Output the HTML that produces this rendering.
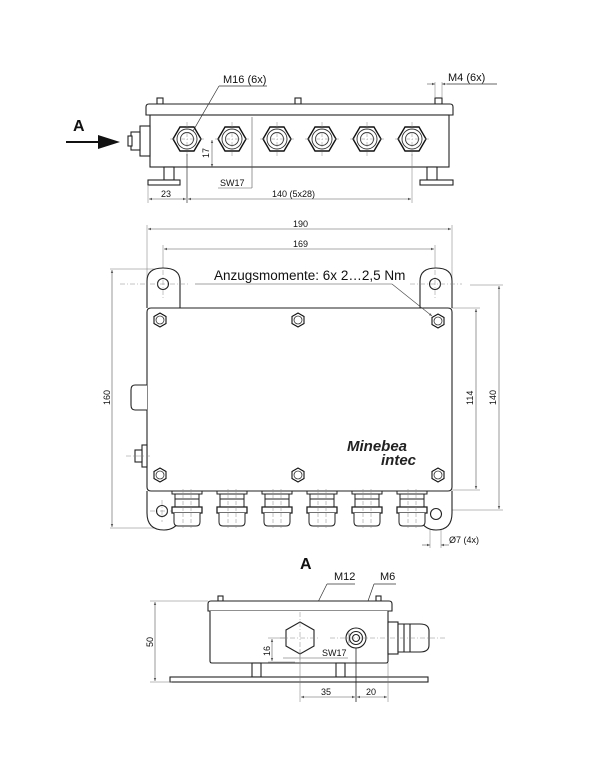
<!DOCTYPE html>
<html><head><meta charset="utf-8"><style>
html,body{margin:0;padding:0;background:#fff;width:603px;height:762px;overflow:hidden}
svg{display:block}
text{font-family:"Liberation Sans",sans-serif;fill:#111}
</style></head><body>
<svg width="603" height="762" viewBox="0 0 603 762" xmlns="http://www.w3.org/2000/svg">
<defs>
<marker id="ar" viewBox="0 0 10 10" refX="10" refY="5" markerWidth="6" markerHeight="5" orient="auto-start-reverse"><path d="M0,1L10,5L0,9z" fill="#555"/></marker>
<g id="hexT">
<polygon points="-14,0 -7,-12 7,-12 14,0 7,12 -7,12" fill="#fff" stroke="#111" stroke-width="1.4"/>
<circle r="10" fill="none" stroke="#333" stroke-width="0.9"/>
<circle r="6.5" fill="none" stroke="#333" stroke-width="0.9"/>
<line x1="-17" y1="0" x2="17" y2="0" stroke="#888" stroke-width="0.5" stroke-dasharray="5,2,1,2"/>
<line x1="0" y1="-17" x2="0" y2="17" stroke="#888" stroke-width="0.5" stroke-dasharray="5,2,1,2"/>
</g>
<g id="nut">
<polygon points="-6,-3.5 0,-7 6,-3.5 6,3.5 0,7 -6,3.5" fill="#fff" stroke="#111" stroke-width="1.1"/>
<circle r="4" fill="none" stroke="#333" stroke-width="0.8"/>
</g>
<g id="gland" stroke="#222" stroke-width="1" fill="#fff">
<rect x="-15" y="0" width="30" height="3"/>
<rect x="-12" y="3" width="24" height="14"/>
<line x1="-12" y1="8" x2="12" y2="8"/>
<rect x="-15" y="16" width="30" height="6" stroke-width="1.3"/>
<path d="M-13,22 L-13,31 Q-13,35 -9,35 L9,35 Q13,35 13,31 L13,22"/>
<line x1="-4" y1="-2" x2="-4" y2="37" stroke="#888" stroke-width="0.5" stroke-dasharray="4,2"/>
<line x1="4" y1="-2" x2="4" y2="37" stroke="#888" stroke-width="0.5" stroke-dasharray="4,2"/>
</g>
</defs>

<!-- ===== TOP VIEW (side) ===== -->
<g stroke="#222" stroke-width="1.1" fill="#fff">
<rect x="157" y="98" width="6" height="6"/>
<rect x="295" y="98" width="6" height="6"/>
<rect x="435" y="98" width="7" height="6"/>
<path d="M146,115 L146,107 Q146,104 149,104 L450,104 Q453,104 453,107 L453,115 Z"/>
<rect x="150" y="115" width="299" height="52"/>
<rect x="164" y="167" width="10" height="13"/>
<rect x="427" y="167" width="10" height="13"/>
<rect x="148" y="180" width="32" height="5"/>
<rect x="420" y="180" width="33" height="5"/>
<rect x="140" y="126" width="10" height="30"/>
<rect x="131" y="132" width="9" height="18"/>
<rect x="128" y="136" width="4" height="10"/>
</g>
<use href="#hexT" x="187" y="139"/><use href="#hexT" x="232" y="139"/><use href="#hexT" x="277" y="139"/>
<use href="#hexT" x="322" y="139"/><use href="#hexT" x="367" y="139"/><use href="#hexT" x="412" y="139"/>
<line x1="66" y1="142" x2="100" y2="142" stroke="#111" stroke-width="2"/>
<polygon points="98,135 120,142 98,149" fill="#111"/>
<text x="73" y="131" font-size="16" font-weight="bold">A</text>
<text x="223" y="83" font-size="11">M16 (6x)</text>
<line x1="219" y1="86" x2="267" y2="86" stroke="#333" stroke-width="0.7"/>
<line x1="219" y1="86" x2="193" y2="131" stroke="#333" stroke-width="0.7"/>
<text x="448" y="81" font-size="11">M4  (6x)</text>
<line x1="447" y1="84" x2="497" y2="84" stroke="#333" stroke-width="0.7"/>
<line x1="435" y1="82" x2="435" y2="98" stroke="#777" stroke-width="0.5"/>
<line x1="442" y1="82" x2="442" y2="98" stroke="#777" stroke-width="0.5"/>
<line x1="427" y1="84" x2="435" y2="84" stroke="#555" stroke-width="0.6" marker-end="url(#ar)"/>
<line x1="450" y1="84" x2="442" y2="84" stroke="#555" stroke-width="0.6" marker-end="url(#ar)"/>
<line x1="212" y1="140" x2="212" y2="167" stroke="#555" stroke-width="0.6" marker-start="url(#ar)" marker-end="url(#ar)"/>
<text x="0" y="0" font-size="9" transform="translate(209,158) rotate(-90)">17</text>
<line x1="252" y1="117" x2="252" y2="188" stroke="#555" stroke-width="0.6"/>
<line x1="218" y1="188" x2="252" y2="188" stroke="#555" stroke-width="0.6"/>
<text x="220" y="186" font-size="9">SW17</text>
<line x1="148" y1="186" x2="148" y2="203" stroke="#777" stroke-width="0.5"/>
<line x1="187" y1="154" x2="187" y2="203" stroke="#333" stroke-width="0.7"/>
<line x1="412" y1="154" x2="412" y2="203" stroke="#777" stroke-width="0.5"/>
<line x1="149" y1="199" x2="186" y2="199" stroke="#555" stroke-width="0.6" marker-start="url(#ar)" marker-end="url(#ar)"/>
<line x1="188" y1="199" x2="411" y2="199" stroke="#555" stroke-width="0.6" marker-start="url(#ar)" marker-end="url(#ar)"/>
<text x="161" y="197" font-size="9">23</text>
<text x="272" y="197" font-size="9">140  (5x28)</text>

<!-- ===== PLAN VIEW ===== -->
<g stroke="#777" stroke-width="0.5">
<line x1="147" y1="225" x2="147" y2="290"/><line x1="452" y1="225" x2="452" y2="290"/>
<line x1="163" y1="245" x2="163" y2="300"/><line x1="435" y1="245" x2="435" y2="300"/>
<line x1="110" y1="269" x2="160" y2="269"/>
<line x1="110" y1="528" x2="165" y2="528"/>
<line x1="452" y1="308" x2="480" y2="308"/><line x1="452" y1="490" x2="480" y2="490"/>
<line x1="470" y1="285" x2="503" y2="285"/><line x1="440" y1="510" x2="503" y2="510"/>
<line x1="430" y1="515" x2="430" y2="548"/><line x1="441" y1="515" x2="441" y2="548"/>
</g>
<line x1="148" y1="229" x2="451" y2="229" stroke="#555" stroke-width="0.6" marker-start="url(#ar)" marker-end="url(#ar)"/>
<line x1="164" y1="249" x2="434" y2="249" stroke="#555" stroke-width="0.6" marker-start="url(#ar)" marker-end="url(#ar)"/>
<text x="293" y="227" font-size="9">190</text>
<text x="293" y="247" font-size="9">169</text>
<line x1="112" y1="270" x2="112" y2="527" stroke="#555" stroke-width="0.6" marker-start="url(#ar)" marker-end="url(#ar)"/>
<text font-size="9" transform="translate(110,405) rotate(-90)">160</text>
<line x1="476" y1="309" x2="476" y2="489" stroke="#555" stroke-width="0.6" marker-start="url(#ar)" marker-end="url(#ar)"/>
<text font-size="9" transform="translate(473,405) rotate(-90)">114</text>
<line x1="499" y1="286" x2="499" y2="509" stroke="#555" stroke-width="0.6" marker-start="url(#ar)" marker-end="url(#ar)"/>
<text font-size="9" transform="translate(496,405) rotate(-90)">140</text>
<line x1="422" y1="545" x2="430" y2="545" stroke="#555" stroke-width="0.6" marker-end="url(#ar)"/>
<line x1="449" y1="545" x2="441" y2="545" stroke="#555" stroke-width="0.6" marker-end="url(#ar)"/>
<text x="449" y="543" font-size="9">Ø7 (4x)</text>
<g stroke="#222" stroke-width="1.1" fill="#fff">
<path d="M147,308 L147,281 Q147,268 163,268 Q180,268 180,281 L180,308"/>
<path d="M420,308 L420,281 Q420,268 436,268 Q452,268 452,281 L452,308"/>
<path d="M147,491 L147,513 Q147,530 164,530 Q175,530 180,520"/>
<path d="M420,520 Q425,530 436,530 Q452,530 452,513 L452,491"/>
<path d="M151,308 L448,308 Q452,308 452,312 L452,487 Q452,491 448,491 L151,491 Q147,491 147,487 L147,312 Q147,308 151,308Z"/>
<circle cx="163" cy="284" r="5.5"/><circle cx="435" cy="284" r="5.5"/>
<circle cx="162" cy="511" r="5.5"/><circle cx="436" cy="514" r="5.5"/>
<path d="M147,385 L135,385 Q131,385 131,390 L131,405 Q131,410 135,410 L147,410"/>
<rect x="142" y="445" width="5" height="22"/>
<rect x="135" y="450" width="7" height="12"/>
</g>
<g stroke="#888" stroke-width="0.5" stroke-dasharray="5,2,1,2">
<line x1="120" y1="284" x2="190" y2="284"/><line x1="410" y1="284" x2="462" y2="284"/>
<line x1="163" y1="270" x2="163" y2="298"/><line x1="435" y1="270" x2="435" y2="298"/>
<line x1="150" y1="511" x2="175" y2="511"/><line x1="162" y1="500" x2="162" y2="522"/>
<line x1="126" y1="456" x2="150" y2="456"/>
</g>
<use href="#nut" x="160" y="320"/><use href="#nut" x="298" y="320"/><use href="#nut" x="438" y="321"/>
<use href="#nut" x="160" y="475"/><use href="#nut" x="298" y="475"/><use href="#nut" x="438" y="475"/>
<use href="#gland" x="187" y="491"/><use href="#gland" x="232" y="491"/><use href="#gland" x="277" y="491"/>
<use href="#gland" x="322" y="491"/><use href="#gland" x="367" y="491"/><use href="#gland" x="412" y="491"/>
<text x="214" y="280" font-size="13.5">Anzugsmomente: 6x 2…2,5 Nm</text>
<line x1="195" y1="284" x2="392" y2="284" stroke="#444" stroke-width="0.6"/>
<line x1="392" y1="284" x2="432" y2="316" stroke="#444" stroke-width="0.6" marker-end="url(#ar)"/>
<text x="347" y="451" font-size="15" font-weight="bold" font-style="italic" style="fill:#222">Minebea</text>
<text x="381" y="465" font-size="15" font-weight="bold" font-style="italic" style="fill:#222">intec</text>

<!-- ===== VIEW A ===== -->
<text x="300" y="569" font-size="16" font-weight="bold">A</text>
<text x="334" y="580" font-size="11">M12</text>
<line x1="327" y1="584" x2="355" y2="584" stroke="#333" stroke-width="0.7"/>
<line x1="327" y1="584" x2="305" y2="628" stroke="#333" stroke-width="0.7"/>
<text x="380" y="580" font-size="11">M6</text>
<line x1="374" y1="584" x2="396" y2="584" stroke="#333" stroke-width="0.7"/>
<line x1="374" y1="584" x2="357" y2="632" stroke="#333" stroke-width="0.7"/>
<g stroke="#222" stroke-width="1.1" fill="#fff">
<rect x="218" y="596" width="5" height="5"/><rect x="376" y="596" width="5" height="5"/>
<path d="M208,611 L208,604 Q208,601 211,601 L389,601 Q392,601 392,604 L392,611Z"/>
<path d="M210,611 L210,661 Q210,663 212,663 L386,663 Q388,663 388,661 L388,611"/>
<rect x="252" y="663" width="9" height="14"/><rect x="336" y="663" width="9" height="14"/>
<rect x="170" y="677" width="258" height="5"/>
<polygon points="300,622 314,630 314,646 300,654 286,646 286,630"/>
<circle cx="356" cy="638" r="10"/><circle cx="356" cy="638" r="6.5"/><circle cx="356" cy="638" r="3.5"/>
<rect x="388" y="622" width="10" height="32"/>
<path d="M398,624 L420,624 Q429,624 429,631 L429,645 Q429,652 420,652 L398,652Z"/>
<line x1="404" y1="624" x2="404" y2="652"/><line x1="410" y1="624" x2="410" y2="652"/>
</g>
<g stroke="#888" stroke-width="0.5" stroke-dasharray="5,2,1,2">
<line x1="280" y1="638" x2="320" y2="638"/><line x1="300" y1="612" x2="300" y2="662"/>
<line x1="330" y1="638" x2="445" y2="638"/>
</g>
<line x1="349" y1="633" x2="349" y2="643" stroke="#555" stroke-width="0.6"/>
<g stroke="#777" stroke-width="0.5">
<line x1="150" y1="601" x2="208" y2="601"/><line x1="150" y1="682" x2="172" y2="682"/>
<line x1="268" y1="638" x2="286" y2="638"/><line x1="268" y1="662" x2="295" y2="662"/>
<line x1="300" y1="650" x2="300" y2="702"/>
<line x1="388" y1="663" x2="388" y2="702"/>
</g>
<line x1="356" y1="648" x2="356" y2="702" stroke="#222" stroke-width="0.8"/>
<line x1="155" y1="602" x2="155" y2="681" stroke="#555" stroke-width="0.6" marker-start="url(#ar)" marker-end="url(#ar)"/>
<text font-size="9" transform="translate(153,647) rotate(-90)">50</text>
<line x1="272" y1="639" x2="272" y2="661" stroke="#555" stroke-width="0.6" marker-start="url(#ar)" marker-end="url(#ar)"/>
<text font-size="9" transform="translate(270,656) rotate(-90)">16</text>
<line x1="283" y1="658" x2="317" y2="658" stroke="#555" stroke-width="0.6"/>
<line x1="317" y1="658" x2="348" y2="658" stroke="#555" stroke-width="0.6"/>
<text x="322" y="656" font-size="9">SW17</text>
<line x1="301" y1="697" x2="355" y2="697" stroke="#555" stroke-width="0.6" marker-start="url(#ar)" marker-end="url(#ar)"/>
<line x1="357" y1="697" x2="387" y2="697" stroke="#555" stroke-width="0.6" marker-start="url(#ar)" marker-end="url(#ar)"/>
<text x="321" y="695" font-size="9">35</text>
<text x="366" y="695" font-size="9">20</text>
</svg>
</body></html>
